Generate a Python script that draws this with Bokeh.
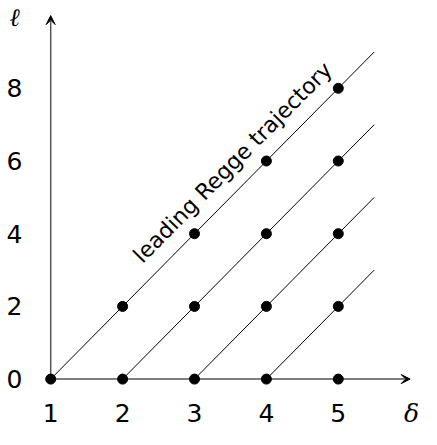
from bokeh.plotting import figure
from bokeh.models import Range1d, Arrow, VeeHead
from bokeh.core.properties import value
from bokeh.embed import file_html
from bokeh.resources import INLINE

# data
point_delta = [1, 2, 3, 4, 5, 2, 3, 4, 5, 3, 4, 5, 4, 5, 5]
point_ell = [0, 2, 4, 6, 8, 0, 2, 4, 6, 0, 2, 4, 0, 2, 0]
traj_start_delta = [1, 2, 3, 4]
traj_start_ell = [0, 0, 0, 0]
traj_end_delta = [5.5, 5.5, 5.5, 5.5]
traj_end_ell = [9, 7, 5, 3]
x_ticks = [1, 2, 3, 4, 5]
x_tick_labels = ["1", "2", "3", "4", "5"]
y_ticks = [0, 2, 4, 6, 8]
y_tick_labels = ["0", "2", "4", "6", "8"]
axis_x_end = 6.0
axis_y_end = 10.0
traj_label = "leading Regge trajectory"

p = figure(width=421, height=429, output_backend="svg", toolbar_location=None,
           x_range=Range1d(0.3018, 6.1572), y_range=Range1d(-1.3865, 10.4154),
           x_axis_location=None, y_axis_location=None, min_border=0)
p.grid.visible = False
p.outline_line_color = None
p.background_fill_color = "white"

axis_col = "#555555"
p.add_layout(Arrow(end=VeeHead(size=9, line_color="black", fill_color="black", line_width=1),
                   x_start=1, y_start=0, x_end=1, y_end=axis_y_end,
                   line_color=axis_col, line_width=1.5, level="underlay"))
p.add_layout(Arrow(end=VeeHead(size=9, line_color="black", fill_color="black", line_width=1),
                   x_start=1, y_start=0, x_end=axis_x_end, y_end=0,
                   line_color=axis_col, line_width=1.5, level="underlay"))

p.segment(x0=traj_start_delta, y0=traj_start_ell, x1=traj_end_delta, y1=traj_end_ell,
          line_color="black", line_width=1)
p.scatter(point_delta, point_ell, size=10, color="black")

font = value("DejaVu Sans")
p.text(x=x_ticks, y=[-0.946] * len(x_ticks), text=x_tick_labels, text_font=font,
       text_font_size="25px", text_align="center", text_baseline="middle", text_color="black")
p.text(x=[0.4965] * len(y_ticks), y=y_ticks, text=y_tick_labels, text_font=font,
       text_font_size="25px", text_align="center", text_baseline="middle", text_color="black")
p.text(x=[0.4965], y=[9.948], text=["ℓ"], text_font=value("DejaVu Serif"), text_font_style="italic",
       text_font_size="25px", text_align="center", text_baseline="middle", text_color="black")
p.text(x=[6.018], y=[-0.946], text=["δ"], text_font=value("DejaVu Serif"), text_font_style="italic",
       text_font_size="25px", text_align="center", text_baseline="middle", text_color="black")
p.text(x=[3.53], y=[5.96], text=[traj_label], text_font=font, angle=45.3, angle_units="deg",
       text_font_size="22px", text_align="center", text_baseline="middle", text_color="black")

open("out.html", "w").write(file_html(p, INLINE))
